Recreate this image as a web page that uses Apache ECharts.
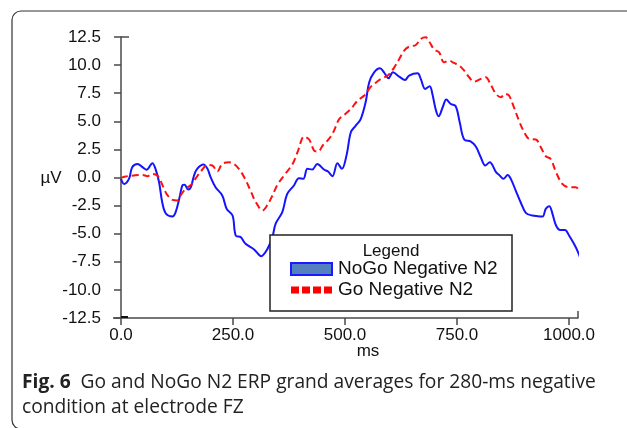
<!DOCTYPE html>
<html>
<head>
<meta charset="utf-8">
<script src="https://cdn.jsdelivr.net/npm/echarts@6/dist/echarts.min.js"></script>
<style>
html,body{margin:0;padding:0;background:#fff;}
#c{width:627px;height:428px;}
</style>
</head>
<body>
<div id="c"></div>
<script>
// ---- data (ms, µV) ----
const nogoTimes = [0,7,18,25,37,48,57,70,77,85,92,100,115,122,130,137,142,150,156,163,170,184,193,200,211,226,236,249,256,267,278,297,313,327,338,345,360,371,386,397,407,416,427,438,453,462,472,483,493,504,513,524,535,546,554,565,578,587,597,607,621,634,643,662,669,679,689,695,703,709,718,726,736,747,756,766,781,792,803,813,823,837,844,854,863,870,881,892,904,918,930,941,948,956,963,971,980,991,1000,1011,1020,1028];
const nogoValues = [-0.12,-0.57,-0.1,0.92,1.21,0.92,0.68,1.27,0.77,-0.42,-2.2,-3.2,-3.47,-3.08,-1.9,-0.71,-0.65,-1.07,-0.86,0.18,0.77,1.15,0.77,0.03,-0.86,-1.6,-2.8,-3.38,-5.16,-5.3,-5.9,-6.4,-7.0,-6.35,-5.3,-4.12,-3.08,-1.46,-0.71,-0.06,-0.12,0.77,0.71,1.21,0.71,0.53,0.12,1.27,0.77,2.1,4.03,4.62,5.2,6.7,8.47,9.36,9.72,9.36,8.83,9.36,8.98,8.68,9.07,9.27,8.77,7.88,8.12,7.43,5.96,5.45,6.25,6.93,6.54,6.34,4.92,3.38,3.2,2.76,1.8,1.07,1.36,0.47,0.23,-0.12,0.23,-0.12,-1.16,-2.2,-3.17,-3.38,-3.44,-3.47,-2.79,-2.55,-3.23,-4.27,-4.66,-4.66,-5.16,-5.9,-6.64,-7.5];
const goTimes = [0,10,29,48,59,70,81,89,96,104,115,126,133,144,156,167,178,193,204,215,226,241,252,263,275,290,301,316,327,338,349,364,383,394,409,420,431,440,450,461,472,487,498,513,528,543,556,565,580,595,610,621,632,643,658,669,680,688,699,710,721,732,743,755,766,777,788,803,814,825,837,848,857,866,877,889,900,911,926,937,948,959,971,985,1000,1015,1028];
const goValues = [-0.03,0.09,0.18,0.23,0.12,0.32,0.18,-0.36,-1.01,-1.6,-1.99,-2.04,-1.6,-1.01,-0.66,-0.06,0.53,1.12,1.07,0.53,1.21,1.36,1.21,0.77,0.03,-1.25,-2.2,-2.93,-2.43,-1.6,-0.66,0.18,1.21,2.25,3.64,3.38,2.4,2.31,2.84,3.29,3.88,5.2,5.56,6.1,6.84,7.29,8.0,8.32,8.77,9.07,9.8,10.54,11.29,11.64,11.79,12.32,12.47,12.09,11.38,11.14,10.25,10.4,10.19,9.96,9.51,8.92,8.53,8.77,8.92,8.27,7.43,7.14,7.43,7.29,6.25,4.98,4.03,3.43,3.38,2.69,1.89,1.65,0.47,-0.57,-0.86,-0.86,-1.75];
const seriesNames = ['NoGo Negative N2', 'Go Negative N2'];
const xTicks = [0, 250, 500, 750, 1000];
const yTicks = [-12.5, -10, -7.5, -5, -2.5, 0, 2.5, 5, 7.5, 10, 12.5];
const xName = 'ms';
const yName = 'µV';
const legendTitle = 'Legend';
const captionBold = 'Fig. 6';
const captionText = 'Go and NoGo N2 ERP grand averages for 280-ms negative';
const captionText2 = 'condition at electrode FZ';

const pair = (t, v) => t.map((x, i) => [x, v[i]]);
const font = 'Liberation Sans, Arial, sans-serif';
const capFont = '"Open Sans", "Noto Sans", sans-serif';
const axisCol = '#4a4a4a';

const chart = echarts.init(document.getElementById('c'), null, {renderer: 'canvas'});
const option = {
  backgroundColor: '#fff',
  animation: false,
  grid: {left: 121, right: 49, top: 37, bottom: 110, containLabel: false},
  xAxis: {
    type: 'value', min: xTicks[0], max: 1020, interval: 250,
    axisLine: {show: true, onZero: false, lineStyle: {color: axisCol, width: 1.5}},
    axisTick: {show: true, inside: false, length: 7, lineStyle: {color: axisCol, width: 1.5}},
    axisLabel: {margin: 9, color: '#111', fontSize: 17, fontFamily: font, showMaxLabel: false,
      formatter: v => xTicks.indexOf(v) >= 0 ? v.toFixed(1) : ''},
    splitLine: {show: false}
  },
  yAxis: {
    type: 'value', min: yTicks[0], max: yTicks[yTicks.length - 1], interval: 2.5,
    axisLine: {show: true, onZero: false, lineStyle: {color: axisCol, width: 1.5}},
    axisTick: {show: true, inside: false, length: 7, lineStyle: {color: axisCol, width: 1.5}},
    axisLabel: {margin: 20, color: '#111', fontSize: 17, fontFamily: font, formatter: v => v.toFixed(1)},
    splitLine: {show: false}
  },
  legend: {
    orient: 'vertical', left: 290, top: 259.5, padding: 0, itemGap: 2, itemWidth: 41, itemHeight: 12,
    selectedMode: false, z: 6,
    textStyle: {fontSize: 19, fontFamily: font, color: '#111', lineHeight: 19, padding: [0, 0, 0, 1]},
    data: [
      {name: seriesNames[0], icon: 'rect', itemStyle: {color: '#5580bf', borderColor: '#1a1aff', borderWidth: 2}},
      {name: seriesNames[1], icon: 'path://M0,0h8v7h-8zM11,0h8v7h-8zM22,0h8v7h-8zM33,0h8v7h-8z', itemStyle: {color: '#ff0000', borderWidth: 0}}
    ]
  },
  series: [
    {name: seriesNames[0], type: 'line', data: pair(nogoTimes, nogoValues), showSymbol: false, smooth: 0.35,
      clip: false, z: 2, lineStyle: {color: '#1414ff', width: 2}, itemStyle: {color: '#1414ff'}},
    {name: seriesNames[1], type: 'line', data: pair(goTimes, goValues), showSymbol: false, smooth: 0.35,
      clip: false, z: 2, lineStyle: {color: '#ff1010', width: 2, type: [7, 4]}, itemStyle: {color: '#ff1010'}}
  ],
  graphic: []
};
chart.setOption(option);

const pO = chart.convertToPixel({gridIndex: 0}, [0, -12.5]);
const pTop = chart.convertToPixel({gridIndex: 0}, [0, 12.5]);
const pEnd = chart.convertToPixel({gridIndex: 0}, [1020, -12.5]);
chart.setOption({
  graphic: [
    {type: 'rect', z: 0, silent: true, shape: {x: 12, y: 11, width: 720, height: 418, r: 9},
      style: {fill: 'none', stroke: '#333', lineWidth: 1.2}},
    {type: 'line', z: 3, shape: {x1: pO[0] - 8, y1: pO[1], x2: pO[0], y2: pO[1]}, style: {stroke: axisCol, lineWidth: 1.5}},
    {type: 'line', z: 3, shape: {x1: pO[0], y1: pO[1] - 1, x2: pO[0] + 7, y2: pO[1] - 1}, style: {stroke: '#111', lineWidth: 2}},
    {type: 'line', z: 3, shape: {x1: pTop[0], y1: pTop[1], x2: pTop[0] + 8, y2: pTop[1]}, style: {stroke: axisCol, lineWidth: 1.5}},
    {type: 'line', z: 3, shape: {x1: pEnd[0], y1: pEnd[1], x2: pEnd[0], y2: pEnd[1] - 7}, style: {stroke: axisCol, lineWidth: 1.5}},
    {type: 'rect', z: 5, shape: {x: 270, y: 235, width: 242, height: 76},
      style: {fill: '#fff', stroke: '#222', lineWidth: 1.5}},
    {type: 'text', z: 6, style: {text: legendTitle, x: 391, y: 251, align: 'center', verticalAlign: 'middle',
      font: '17px ' + font, fill: '#111'}},
    {type: 'text', z: 6, style: {text: xName, x: 368, y: 351, align: 'center', verticalAlign: 'middle',
      font: '17px ' + font, fill: '#111'}},
    {type: 'text', z: 6, style: {text: yName, x: 51, y: 178, align: 'center', verticalAlign: 'middle',
      font: '17px ' + font, fill: '#111'}},
    {type: 'text', z: 6, style: {
      text: '{b|' + captionBold + '}  ' + captionText + '\n' + captionText2,
      x: 22, y: 370.5, align: 'left', verticalAlign: 'top',
      fontSize: 19.2, fontFamily: capFont, fill: '#222', lineHeight: 25,
      rich: {b: {fontWeight: 'bold', fontSize: 19.2, fontFamily: capFont, fill: '#222', lineHeight: 25}}
    }}
  ]
});
</script>
</body>
</html>
